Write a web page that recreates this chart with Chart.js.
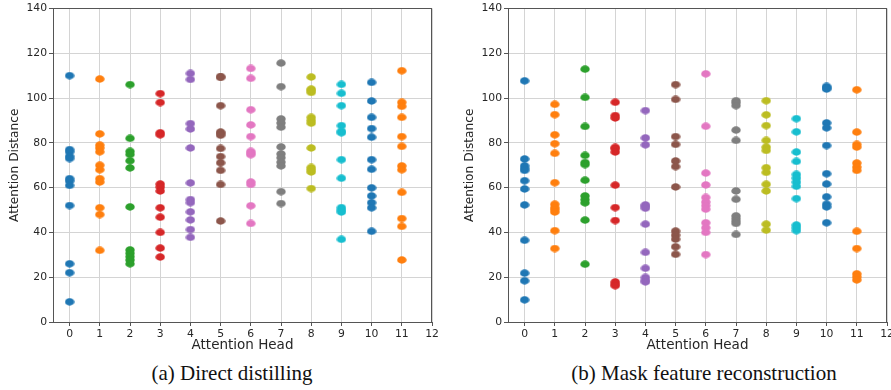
<!DOCTYPE html>
<html>
<head>
<meta charset="utf-8">
<script src="https://cdn.jsdelivr.net/npm/chart.js@4.4.1/dist/chart.umd.min.js"></script>
<style>
  html, body { margin: 0; padding: 0; background: #fff; width: 891px; height: 390px; overflow: hidden; }
  #wrap { position: relative; width: 891px; height: 390px; overflow: hidden; }
  canvas { position: absolute; top: 0; }
  #cA { left: 0; }
  #cB { left: 455px; }
  .cap { position: absolute; top: 361px; width: 420px; text-align: center;
         font-family: "Liberation Serif", "Times New Roman", serif; font-size: 21px; line-height: 24px; color: #111; white-space: nowrap; }
</style>
</head>
<body>
<div id="wrap">
  <canvas id="cA" width="445" height="360"></canvas>
  <canvas id="cB" width="445" height="360"></canvas>
  <div class="cap" style="left:22px">(a) Direct distilling</div>
  <div class="cap" style="left:494px">(b) Mask feature reconstruction</div>
</div>
<script>
// ---- data ----
const heads = [0, 1, 2, 3, 4, 5, 6, 7, 8, 9, 10, 11];
const xTickLabels = [0, 1, 2, 3, 4, 5, 6, 7, 8, 9, 10, 11, 12];
const yTickLabels = [0, 20, 40, 60, 80, 100, 120, 140];
const xAxisTitle = "Attention Head";
const yAxisTitle = "Attention Distance";

// (a) Direct distilling: attention distance per head
const directDistilling = [
  [110, 77, 76, 74, 73, 64, 63, 61, 52, 26, 22, 9],
  [108.5, 84, 79, 77.7, 76, 70, 68, 64, 62.5, 51, 48, 32],
  [106, 82, 76.2, 74.8, 72, 68.8, 51.4, 32.2, 30.7, 29.2, 27.7, 26],
  [102, 98, 84.5, 83.6, 61.6, 60.3, 58.5, 51, 46.8, 40, 33, 29],
  [111, 108.3, 88.6, 86.2, 77.7, 62.1, 54.7, 53.3, 49.2, 45.6, 41.3, 37.8],
  [109.6, 109.2, 96.6, 84.8, 84.2, 83.4, 77.5, 73.9, 71.1, 67.7, 61.4, 45.1],
  [113.2, 108.8, 94.8, 88, 82.8, 76.2, 75.4, 74.7, 62.5, 61.4, 51.9, 44],
  [115.6, 105.1, 90.7, 88.9, 87, 78.2, 75.1, 73.4, 71.4, 69.7, 58.2, 52.9],
  [109.4, 104, 103.3, 102.5, 91.4, 90, 88.8, 77.7, 69, 68, 67, 59.6],
  [106.1, 102.1, 96.6, 87.7, 85.2, 84.5, 72.5, 64.2, 51.1, 50, 49.1, 36.9],
  [107, 98.7, 91.4, 86.4, 82.5, 72.5, 68.2, 59.9, 56.3, 53.3, 51, 40.5],
  [112.2, 98.1, 96.3, 91.4, 82.8, 78.4, 69.7, 68, 57.9, 46.2, 42.7, 27.7]
];

// (b) Mask feature reconstruction: attention distance per head
const maskReconstruction = [
  [107.7, 72.8, 69.8, 68.6, 67.7, 63.1, 59.4, 52.3, 36.5, 21.8, 18.4, 9.9],
  [97.2, 92.6, 83.6, 79.6, 75.3, 62.2, 52.6, 51.1, 50.2, 49.1, 40.8, 32.8],
  [112.9, 100.3, 87.3, 74.4, 71.2, 70.3, 63.3, 56.3, 54.7, 53.2, 45.5, 25.8],
  [98.1, 92.2, 91.1, 78, 77.4, 75.9, 61.1, 51.1, 45.3, 17.9, 16.9, 16.2],
  [94.4, 82.2, 79.1, 52.3, 51.6, 50.8, 43.7, 31.1, 24, 19.9, 18.6, 17.9],
  [106, 99.4, 82.8, 79.3, 71.9, 69.4, 60.3, 40.6, 38.8, 37, 33.6, 30.2],
  [110.8, 87.4, 66.5, 61.2, 55.6, 53.6, 52, 50.4, 44.3, 42.1, 40, 30.1],
  [98.8, 97.9, 96.6, 85.7, 81.1, 58.5, 54.8, 47.4, 46.2, 45, 44, 39.1],
  [98.8, 92.5, 87.7, 81.1, 78.1, 76.6, 68.9, 66.8, 61.5, 58.5, 43.7, 41],
  [90.8, 84.9, 75.9, 71.7, 65.9, 64.3, 62.5, 60.6, 55.1, 43.3, 42.1, 40.8],
  [105.2, 104.6, 104, 88.9, 86.7, 78.8, 66.2, 61.6, 55.9, 52.6, 51.4, 44.3],
  [103.7, 84.8, 79.3, 78.1, 71, 69.2, 67.7, 40.5, 32.8, 21.5, 20.2, 18.8]
];

// ---- styles ----
const palette = ["#1f77b4", "#ff7f0e", "#2ca02c", "#d62728", "#9467bd", "#8c564b",
                 "#e377c2", "#7f7f7f", "#bcbd22", "#17becf", "#1f77b4", "#ff7f0e"];

function ellipseDot(color) {
  const c = document.createElement("canvas");
  c.width = 10; c.height = 8;
  const g = c.getContext("2d");
  g.fillStyle = color;
  g.beginPath();
  g.ellipse(5, 4, 4.7, 3.7, 0, 0, Math.PI * 2);
  g.fill();
  return c;
}

const framePlugin = {
  id: "frame",
  afterDatasetsDraw(chart) {
    const { ctx, chartArea: a } = chart;
    ctx.save();
    ctx.strokeStyle = "#555";
    ctx.lineWidth = 1;
    ctx.strokeRect(Math.round(a.left) + 0.5, Math.round(a.top) + 0.5,
                   Math.round(a.right - a.left) - 1, Math.round(a.bottom - a.top));
    ctx.restore();
  }
};

function makeChart(id, values) {
  const datasets = heads.map((h, i) => ({
    label: "Head " + h,
    data: values[i].map(v => ({ x: h, y: v })),
    pointStyle: ellipseDot(palette[i]),
    backgroundColor: palette[i],
    borderColor: palette[i],
    pointRadius: 5,
    showLine: false
  }));
  const tickFont = { family: "'DejaVu Sans', sans-serif", size: 10.8 };
  return new Chart(document.getElementById(id), {
    type: "scatter",
    data: { datasets },
    plugins: [framePlugin],
    options: {
      responsive: false,
      animation: false,
      devicePixelRatio: 1,
      layout: { padding: { top: 7, right: 13, left: 0, bottom: 0 } },
      plugins: { legend: { display: false }, tooltip: { enabled: false } },
      scales: {
        x: {
          type: "linear",
          min: -0.55, max: 12,
          afterBuildTicks: s => { s.ticks = xTickLabels.map(v => ({ value: v })); },
          afterFit: s => { s.height = 38; },
          border: { display: false },
          grid: { color: "#d4d4d4", lineWidth: 1, tickLength: 4, tickColor: "#555", drawTicks: true },
          ticks: { font: tickFont, color: "#262626", padding: 2, maxRotation: 0, autoSkip: false },
          title: { display: true, text: xAxisTitle, color: "#262626",
                   font: { family: "'DejaVu Sans', sans-serif", size: 13.5 }, padding: { top: 0, bottom: 6 } }
        },
        y: {
          type: "linear",
          min: 0, max: 140,
          afterBuildTicks: s => { s.ticks = yTickLabels.map(v => ({ value: v })); },
          afterFit: s => { s.width = 53; },
          border: { display: false },
          grid: { color: "#d4d4d4", lineWidth: 1, tickLength: 4, tickColor: "#555", drawTicks: true },
          ticks: { font: tickFont, color: "#262626", padding: 2 },
          title: { display: true, text: yAxisTitle, color: "#262626",
                   font: { family: "'DejaVu Sans', sans-serif", size: 12.2 }, padding: { top: 8, bottom: 0 } }
        }
      }
    }
  });
}

makeChart("cA", directDistilling);
makeChart("cB", maskReconstruction);
</script>
</body>
</html>
